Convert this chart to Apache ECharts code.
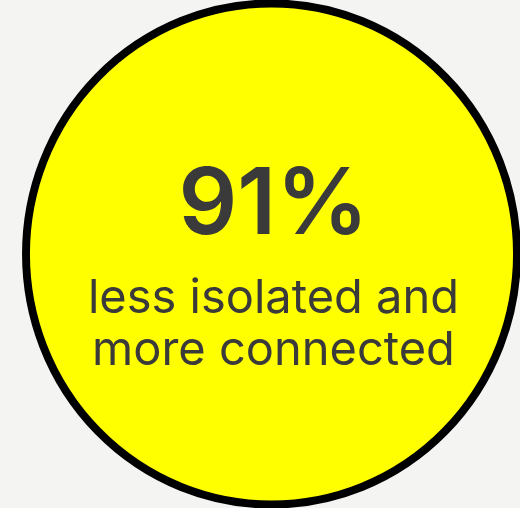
<!DOCTYPE html>
<html>
<head>
<meta charset="utf-8">
<script src="https://cdn.jsdelivr.net/npm/echarts@6/dist/echarts.min.js"></script>
<style>
html,body{margin:0;padding:0;background:#f4f4f2;}
#chart{width:520px;height:508px;}
</style>
</head>
<body>
<div id="chart"></div>
<script>
var statValue = 91;
var statSuffix = '%';
var captionLines = ['less isolated and', 'more connected'];

var chart = echarts.init(document.getElementById('chart'));
chart.setOption({
  backgroundColor: '#f4f4f2',
  animation: false,
  grid: {left: 23, right: 0, top: 0, bottom: 0},
  xAxis: {type: 'value', min: -1, max: 1, show: false},
  yAxis: {type: 'value', min: -1, max: 1, show: false},
  series: [{
    type: 'scatter',
    symbol: 'circle',
    symbolSize: [491, 501],
    data: [[0, 0, statValue]],
    itemStyle: {color: '#ffff00', borderColor: '#000000', borderWidth: 8, opacity: 1},
    emphasis: {disabled: true},
    label: {
      show: true,
      position: 'inside',
      offset: [2, 4],
      formatter: function (p) {
        return '{big|' + p.value[2] + statSuffix + '}\n' +
          captionLines.map(function (l) { return '{small|' + l + '}'; }).join('\n');
      },
      rich: {
        big: {fontFamily: 'Inter', fontSize: 92, fontWeight: 600, color: '#3a3a3a', lineHeight: 134, align: 'center'},
        small: {fontFamily: 'Inter', fontSize: 47, fontWeight: 400, color: '#3a3a3a', lineHeight: 52, align: 'center'}
      }
    }
  }]
});
</script>
</body>
</html>
